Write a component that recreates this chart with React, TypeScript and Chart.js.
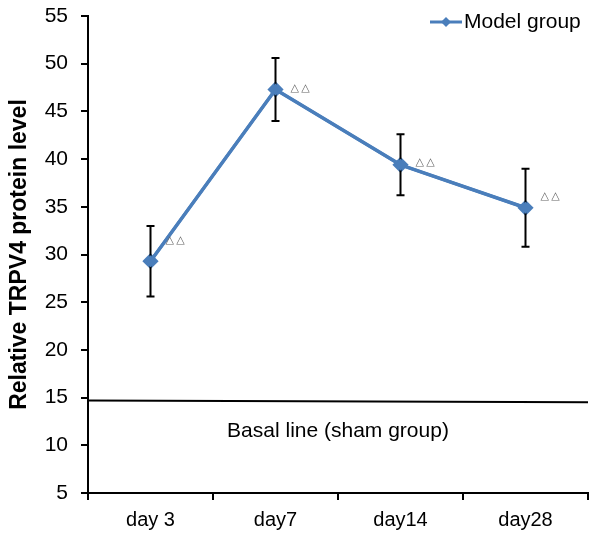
import React, { useEffect, useRef } from "react";
import { Chart, registerables } from "chart.js";

Chart.register(...registerables);

const categories = ["day 3", "day7", "day14", "day28"];
const modelMeans = [29.3, 47.3, 39.4, 34.9];
const modelErrors = [3.7, 3.3, 3.2, 4.1];
const sigMarkY = [31.5, 47.4, 39.7, 36.1];
const sigLabel = "\u25B3\u2009\u25B3";
const basalStart = 14.7;
const basalEnd = 14.5;
const basalText = "Basal line (sham group)";
const seriesName = "Model group";
const yTitle = "Relative TRPV4 protein level";

const BLUE = "#4a7ebb";
const FONT = "'Liberation Sans', Arial, sans-serif";

const overlayPlugin = {
  id: "overlay",
  afterDatasetsDraw(chart: any) {
    const ctx = chart.ctx;
    const ys = chart.scales.y;
    const xs = chart.scales.x;
    const area = chart.chartArea;
    ctx.save();
    // error bars
    ctx.strokeStyle = "#000";
    ctx.lineWidth = 2;
    modelMeans.forEach((m, i) => {
      const x = xs.getPixelForValue(i);
      const top = ys.getPixelForValue(m + modelErrors[i]);
      const bot = ys.getPixelForValue(m - modelErrors[i]);
      ctx.beginPath();
      ctx.moveTo(x, top);
      ctx.lineTo(x, bot);
      ctx.moveTo(x - 4, top);
      ctx.lineTo(x + 4, top);
      ctx.moveTo(x - 4, bot);
      ctx.lineTo(x + 4, bot);
      ctx.stroke();
    });
    // redraw line & points on top of error bars
    const meta = chart.getDatasetMeta(0);
    ctx.strokeStyle = BLUE;
    ctx.lineWidth = 3.5;
    ctx.lineJoin = "round";
    ctx.beginPath();
    meta.data.forEach((p: any, i: number) => {
      if (i === 0) ctx.moveTo(p.x, p.y);
      else ctx.lineTo(p.x, p.y);
    });
    ctx.stroke();
    ctx.fillStyle = BLUE;
    meta.data.forEach((p: any) => {
      ctx.beginPath();
      ctx.moveTo(p.x, p.y - 6);
      ctx.lineTo(p.x + 6, p.y);
      ctx.lineTo(p.x, p.y + 6);
      ctx.lineTo(p.x - 6, p.y);
      ctx.closePath();
      ctx.fill();
    });
    // significance marks
    ctx.fillStyle = "#666";
    ctx.font = "11px 'DejaVu Sans', sans-serif";
    ctx.textAlign = "left";
    ctx.textBaseline = "middle";
    sigMarkY.forEach((v, i) => {
      const x = xs.getPixelForValue(i) + 15;
      ctx.fillText(sigLabel, x, ys.getPixelForValue(v));
    });
    // basal line
    ctx.strokeStyle = "#000";
    ctx.lineWidth = 2;
    ctx.beginPath();
    ctx.moveTo(area.left, ys.getPixelForValue(basalStart));
    ctx.lineTo(area.right, ys.getPixelForValue(basalEnd));
    ctx.stroke();
    ctx.fillStyle = "#000";
    ctx.font = "21px " + FONT;
    ctx.textAlign = "center";
    ctx.textBaseline = "middle";
    ctx.fillText(basalText, (xs.getPixelForValue(0) + xs.getPixelForValue(3)) / 2, ys.getPixelForValue(11.5));
    // legend
    const lx = area.right - 124;
    const ly = 22;
    ctx.strokeStyle = BLUE;
    ctx.lineWidth = 3;
    ctx.beginPath();
    ctx.moveTo(lx - 34, ly);
    ctx.lineTo(lx - 2, ly);
    ctx.stroke();
    ctx.fillStyle = BLUE;
    ctx.beginPath();
    const cx = lx - 18;
    ctx.moveTo(cx, ly - 5);
    ctx.lineTo(cx + 5, ly);
    ctx.lineTo(cx, ly + 5);
    ctx.lineTo(cx - 5, ly);
    ctx.closePath();
    ctx.fill();
    ctx.fillStyle = "#000";
    ctx.font = "21px " + FONT;
    ctx.textAlign = "left";
    ctx.fillText(seriesName, lx, ly);
    ctx.restore();
  },
};

export default function App() {
  const ref = useRef<HTMLCanvasElement>(null);
  useEffect(() => {
    if (!ref.current) return;
    const chart = new Chart(ref.current, {
      type: "line",
      data: {
        labels: categories,
        datasets: [
          {
            label: seriesName,
            data: modelMeans,
            borderColor: BLUE,
            backgroundColor: BLUE,
            borderWidth: 3,
            pointStyle: "rectRot",
            pointRadius: 6,
            tension: 0,
          },
        ],
      },
      options: {
        responsive: false,
        animation: false,
        layout: { padding: { top: 16, right: 12, left: 0, bottom: 0 } },
        plugins: { legend: { display: false }, tooltip: { enabled: false } },
        scales: {
          x: {
            offset: true,
            grid: {
              offset: true,
              drawOnChartArea: false,
              drawTicks: true,
              tickLength: 7,
              color: "#000",
              lineWidth: 2,
            },
            border: { color: "#000", width: 2 },
            ticks: { color: "#000", font: { family: FONT, size: 20 }, padding: 8 },
            afterFit: (s: any) => {
              s.height = 42;
            },
          },
          y: {
            min: 5,
            max: 55,
            ticks: { stepSize: 5, color: "#000", font: { family: FONT, size: 21 }, padding: 13 },
            grid: {
              drawOnChartArea: false,
              drawTicks: true,
              tickLength: 7,
              color: "#000",
              lineWidth: 2,
            },
            border: { color: "#000", width: 2 },
            title: {
              display: true,
              text: yTitle,
              color: "#000",
              font: { family: FONT, size: 23, weight: "bold" },
              padding: { top: 6, bottom: 0 },
            },
            afterFit: (s: any) => {
              s.width = 88;
              s.paddingTop = 0;
              s.paddingBottom = 0;
            },
          },
        },
      },
      plugins: [overlayPlugin],
    });
    return () => chart.destroy();
  }, []);
  return (
    <div style={{ position: "fixed", left: 0, top: 0, width: 600, height: 535, background: "#fff" }}>
      <canvas ref={ref} width={600} height={535} />
    </div>
  );
}
